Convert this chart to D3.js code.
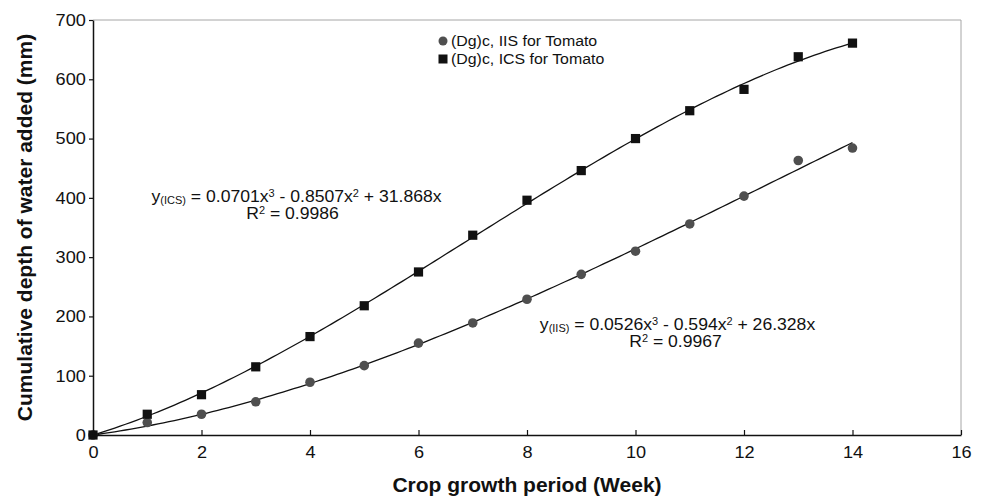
<!DOCTYPE html>
<html lang="en">
<head>
    <meta charset="UTF-8">
    <title>Cumulative depth of water added</title>
    <style>
        body{
            margin:0;
            background:#fff;
        }
        text{
            font-family:"Liberation Sans", Arial, sans-serif;
            fill:#111;
        }
    </style>
    <script src="https://cdn.jsdelivr.net/npm/d3@7/dist/d3.min.js"></script>
</head>
<body>
<div id ='container'>
</div>
</body>
<script>
    // values
    var weeks = [0, 1, 2, 3, 4, 5, 6, 7, 8, 9, 10, 11, 12, 13, 14];
    var icsValues = [0, 35, 68, 115, 166, 218, 275, 337, 396, 446, 500, 547, 583, 638, 661];
    var iisValues = [0, 21, 35, 56, 89, 117, 155, 189, 229, 271, 310, 356, 403, 463, 484];
    var xTicks = [0, 2, 4, 6, 8, 10, 12, 14, 16];
    var yTicks = [0, 100, 200, 300, 400, 500, 600, 700];
    var legendLabels = ['(Dg)c, IIS for Tomato', '(Dg)c, ICS for Tomato'];

    var w = 982, h = 497,
        pl = 93, pr = 961, pt = 20, pb = 435,
        sx = 1.1; // text in the picture is a bit wider than tall

    var xScale = d3.scaleLinear().domain([0, 16]).range([pl, pr]),
        yScale = d3.scaleLinear().domain([0, 700]).range([pb, pt]);

    var svg = d3.select('#container').append('svg').attr('width', w).attr('height', h);

    // frame (top and right, gray)
    svg.append('path')
        .attr('d', 'M' + pl + ',' + pt + 'H' + pr + 'V' + pb)
        .attr('fill', 'none').attr('stroke', '#a6a6a6').attr('stroke-width', 1);

    // cubic least squares through the origin (trendline)
    function fitCubic(xs, ys) {
        var A = [[0, 0, 0], [0, 0, 0], [0, 0, 0]], b = [0, 0, 0];
        xs.forEach(function (x, i) {
            var f = [x, x * x, x * x * x];
            for (var r = 0; r < 3; r++) {
                b[r] += f[r] * ys[i];
                for (var c = 0; c < 3; c++) A[r][c] += f[r] * f[c];
            }
        });
        for (var p = 0; p < 3; p++) {
            for (var r2 = p + 1; r2 < 3; r2++) {
                var m = A[r2][p] / A[p][p];
                for (var c2 = p; c2 < 3; c2++) A[r2][c2] -= m * A[p][c2];
                b[r2] -= m * b[p];
            }
        }
        var k = [0, 0, 0];
        for (var r3 = 2; r3 >= 0; r3--) {
            var s = b[r3];
            for (var c3 = r3 + 1; c3 < 3; c3++) s -= A[r3][c3] * k[c3];
            k[r3] = s / A[r3][r3];
        }
        return function (x) { return k[0] * x + k[1] * x * x + k[2] * x * x * x; };
    }

    var line = d3.line().x(function (d) { return xScale(d[0]); }).y(function (d) { return yScale(d[1]); });
    [icsValues, iisValues].forEach(function (vals) {
        var f = fitCubic(weeks, vals);
        var pts = d3.range(0, 14.001, 0.1).map(function (x) { return [x, f(x)]; });
        svg.append('path').datum(pts).attr('d', line)
            .attr('fill', 'none').attr('stroke', '#111').attr('stroke-width', 1.3);
    });

    // markers
    svg.selectAll('circle.iis').data(weeks).enter().append('circle')
        .attr('class', 'iis')
        .attr('cx', function (d) { return xScale(d); })
        .attr('cy', function (d, i) { return yScale(iisValues[i]); })
        .attr('r', 4.8)
        .attr('fill', '#4f4f4f');
    svg.selectAll('rect.ics').data(weeks).enter().append('rect')
        .attr('class', 'ics')
        .attr('x', function (d) { return xScale(d) - 4.6; })
        .attr('y', function (d, i) { return yScale(icsValues[i]) - 4.6; })
        .attr('width', 9.2).attr('height', 9.2)
        .attr('fill', '#111');

    // axes
    var xAxis = d3.axisBottom(xScale).tickValues(xTicks).tickSizeInner(-5).tickSizeOuter(0).tickPadding(11),
        yAxis = d3.axisLeft(yScale).tickValues(yTicks).tickSizeInner(4).tickSizeOuter(0).tickPadding(4);
    var gx = svg.append('g').attr('transform', 'translate(0,' + pb + ')').call(xAxis);
    var gy = svg.append('g').attr('transform', 'translate(' + pl + ',0)').call(yAxis);
    [gx, gy].forEach(function (g) {
        g.select('.domain').attr('stroke', '#111').attr('stroke-width', 1.5);
        g.selectAll('.tick line').attr('stroke', '#111').attr('stroke-width', 1.2);
        g.selectAll('.tick text')
            .attr('font-family', '"Liberation Sans", Arial, sans-serif')
            .attr('font-size', '16.5px').attr('fill', '#111');
    });
    gx.selectAll('.tick text').attr('transform', 'scale(' + sx + ',1)');
    gy.selectAll('.tick text').attr('transform', 'scale(' + sx + ',1)').attr('x', -6.5);

    // axis titles
    svg.append('text').attr('x', (pl + pr) / 2).attr('y', 492)
        .attr('text-anchor', 'middle').attr('font-size', '21px').attr('font-weight', 'bold')
        .text('Crop growth period (Week)');
    svg.append('text').attr('transform', 'translate(32,' + (pt + pb) / 2 + ') rotate(-90)')
        .attr('text-anchor', 'middle').attr('font-size', '21px').attr('font-weight', 'bold')
        .text('Cumulative depth of water added (mm)');

    // legend
    var leg = svg.append('g');
    leg.append('circle').attr('cx', 443).attr('cy', 41).attr('r', 4.5).attr('fill', '#4f4f4f');
    leg.append('rect').attr('x', 438.5).attr('y', 54.5).attr('width', 9).attr('height', 9).attr('fill', '#111');
    legendLabels.forEach(function (t, i) {
        leg.append('text').attr('transform', 'translate(451,' + (46 + i * 18) + ') scale(1.06,1)')
            .attr('font-size', '15px').text(t);
    });

    // trendline equations
    function equation(cx, y, sub, parts) {
        var t = svg.append('text').attr('transform', 'translate(' + cx + ',' + y + ') scale(' + sx + ',1)')
            .attr('text-anchor', 'middle').attr('font-size', '16px');
        t.append('tspan').text('y');
        t.append('tspan').attr('font-size', '10px').attr('dy', 1.5).text(sub);
        t.append('tspan').attr('dy', -1.5).text(' = ' + parts[0] + 'x');
        t.append('tspan').attr('font-size', '10px').attr('dy', -5).text('3');
        t.append('tspan').attr('dy', 5).text(' - ' + parts[1] + 'x');
        t.append('tspan').attr('font-size', '10px').attr('dy', -5).text('2');
        t.append('tspan').attr('dy', 5).text(' + ' + parts[2] + 'x');
    }
    function rSquared(cx, y, v) {
        var t = svg.append('text').attr('transform', 'translate(' + cx + ',' + y + ') scale(' + sx + ',1)')
            .attr('text-anchor', 'middle').attr('font-size', '16px');
        t.append('tspan').text('R');
        t.append('tspan').attr('font-size', '10px').attr('dy', -5).text('2');
        t.append('tspan').attr('dy', 5).text(' = ' + v);
    }
    equation(296.5, 202, '(ICS)', ['0.0701', '0.8507', '31.868']);
    rSquared(292.5, 219, '0.9986');
    equation(677.5, 330, '(IIS)', ['0.0526', '0.594', '26.328']);
    rSquared(675.5, 347, '0.9967');
</script>
</html>
